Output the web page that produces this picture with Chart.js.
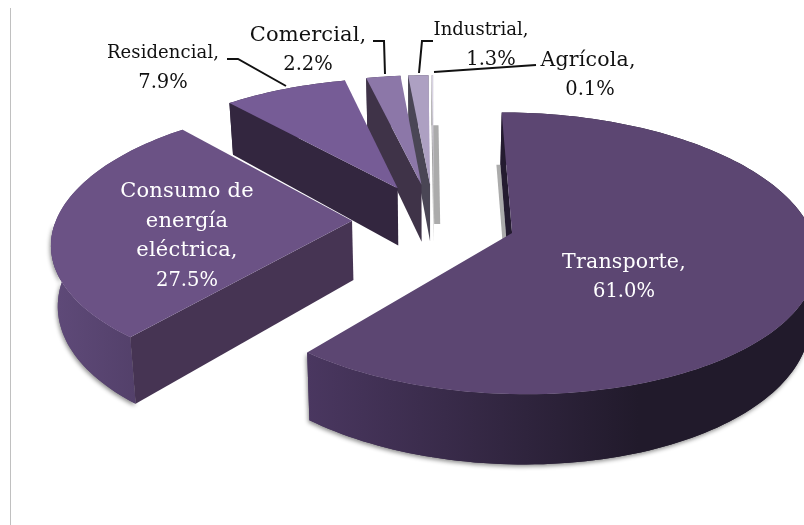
<!DOCTYPE html>
<html>
<head>
<meta charset="utf-8">
<title>Consumo de energía</title>
<script src="https://cdn.jsdelivr.net/npm/chart.js@4"></script>
<style>
  body { margin: 0; background: #fff; }
  #wrap { position: relative; width: 804px; height: 525px; overflow: hidden; }
</style>
</head>
<body>
<div id="wrap"><canvas id="pieChart" width="804" height="525"></canvas></div>
<script>
const categories = ['Transporte', 'Consumo de energía eléctrica', 'Residencial', 'Comercial', 'Industrial', 'Agrícola'];
const shares = [61.0, 27.5, 7.9, 2.2, 1.3, 0.1];

// top face, outer wall (left and right end) and cut wall of each slice
const topColors = ['#5c4672', '#6b5285', '#765c96', '#8c77a8', '#ada0c2', '#d8d2e2'];
const wallLeft = ['#4a3760', '#5f4a79', '#33263f', '#3f3348', '#4a4655', '#a0a0a0'];
const wallRight = ['#211a2b', '#53406a', '#33263f', '#3f3348', '#4a4655', '#a0a0a0'];
const cutColors = ['#241b30', '#463453', '#33263f', '#3f3348', '#4a4655', '#a0a0a0'];

// how each label is broken into lines, and where it sits
const labelLines = [
  ['Transporte,'],
  ['Consumo de', 'energía', 'eléctrica,'],
  ['Residencial,'],
  ['Comercial,'],
  ['Industrial,'],
  ['Agrícola,']
];
const labelSpots = [
  { x: 624, y: 268, gap: 29, color: '#fff', size: 20.5, spacing: 0.2 },
  { x: 187, y: 197, gap: 29.6, color: '#fff', size: 21, spacing: 0.2 },
  { x: 163, y: 58, gap: 30, color: '#111', size: 18, spacing: 0.1 },
  { x: 308, y: 41, gap: 29, color: '#111', size: 21, spacing: 0.1 },
  { x: 481, y: 35, gap: 30, color: '#111', size: 18, spacing: 0, valueX: 491 },
  { x: 588, y: 66, gap: 29, color: '#111', size: 20.5, spacing: 0.2, valueX: 590 }
];
const leaderLines = [
  [[227, 59], [238, 59], [286, 86]],
  [[373, 41], [384, 41], [385, 74]],
  [[433, 41], [422, 41], [419, 73]],
  [[434, 72], [536, 65]]
];

// soft gray edge some slices throw next to their first cut wall
const edgeShadows = [{ dx: -4, width: 4, reach: 0.6 }, null, null, null, null, { dx: 1, width: 6, reach: 0.85 }];

// view of the tilted pie
const view = {
  vanishX: 430, horizonY: 233, perspective: 0.00105, taper: 0.0003,
  hubX: 4, hubY: -13, radius: 300, tilt: 0.46, explode: 83, depth: 60
};

function project(X, Y, Z) {
  const w = 1 / (1 - view.perspective * Y);
  const k = 1 - view.taper * Z;
  return [view.vanishX + X * w * k, view.horizonY + (Y + Z) * w];
}

function tracePoly(ctx, pts) {
  ctx.beginPath();
  pts.forEach((p, i) => i ? ctx.lineTo(p[0], p[1]) : ctx.moveTo(p[0], p[1]));
  ctx.closePath();
}

function polyArea(pts) {
  let sum = 0;
  pts.forEach((p, i) => {
    const q = pts[(i + 1) % pts.length];
    sum += p[0] * q[1] - q[0] * p[1];
  });
  return sum;
}

function drawSlice(ctx, arc, i) {
  const mid = (arc.startAngle + arc.endAngle) / 2;
  const ax = view.hubX + view.explode * Math.cos(mid);
  const ay = view.hubY + view.explode * view.tilt * Math.sin(mid);
  const steps = Math.max(2, Math.ceil((arc.endAngle - arc.startAngle) * 40));
  const rimTop = [], rimBottom = [], frontTop = [], frontBottom = [];
  for (let s = 0; s <= steps; s++) {
    const t = arc.startAngle + (arc.endAngle - arc.startAngle) * s / steps;
    const X = ax + view.radius * Math.cos(t);
    const Y = ay + view.radius * view.tilt * Math.sin(t);
    rimTop.push(project(X, Y, 0));
    rimBottom.push(project(X, Y, view.depth));
    if (Math.sin(t) > 0) {
      frontTop.push(rimTop[s]);
      frontBottom.push(rimBottom[s]);
    }
  }
  const apexTop = project(ax, ay, 0);
  const apexBottom = project(ax, ay, view.depth);

  const edge = edgeShadows[i];
  if (edge) {
    const a = rimBottom[0];
    const bx = a[0] + (apexBottom[0] - a[0]) * edge.reach;
    const by = a[1] + (apexBottom[1] - a[1]) * edge.reach;
    ctx.fillStyle = '#ababab';
    tracePoly(ctx, [[a[0] + edge.dx, a[1]], [a[0] + edge.dx + edge.width, a[1]],
      [bx + edge.dx + edge.width, by], [bx + edge.dx, by]]);
    ctx.fill();
  }

  // outer wall, with a drop shadow on the part facing the viewer
  const xs = rimTop.map(p => p[0]);
  const grad = ctx.createLinearGradient(Math.min(...xs), 0, Math.max(...xs), 0);
  grad.addColorStop(0, wallLeft[i]);
  grad.addColorStop(0.65, wallRight[i]);
  grad.addColorStop(1, wallRight[i]);
  ctx.fillStyle = grad;
  if (frontTop.length > 1) {
    ctx.save();
    ctx.shadowColor = 'rgba(0,0,0,0.45)';
    ctx.shadowBlur = 4;
    ctx.shadowOffsetX = -1;
    ctx.shadowOffsetY = 2;
    tracePoly(ctx, frontTop.concat(frontBottom.slice().reverse()));
    ctx.fill();
    ctx.restore();
  }
  tracePoly(ctx, rimTop.concat(rimBottom.slice().reverse()));
  ctx.fill();

  // cut walls, only the one facing the viewer
  const startWall = [rimTop[0], apexTop, apexBottom, rimBottom[0]];
  const endWall = [rimTop[steps], apexTop, apexBottom, rimBottom[steps]];
  ctx.fillStyle = cutColors[i];
  if (polyArea(startWall) > 0) { tracePoly(ctx, startWall); ctx.fill(); }
  if (polyArea(endWall) < 0) { tracePoly(ctx, endWall); ctx.fill(); }

  // top face
  ctx.fillStyle = topColors[i];
  tracePoly(ctx, [apexTop].concat(rimTop));
  ctx.fill();
}

const tiltedPie = {
  id: 'tiltedPie',
  beforeDatasetsDraw(chart) {
    const ctx = chart.ctx;
    const arcs = chart.getDatasetMeta(0).data;
    // back to front
    [5, 4, 3, 2, 0, 1].forEach(i => drawSlice(ctx, arcs[i], i));
    return false;
  },
  afterDraw(chart) {
    const ctx = chart.ctx;
    ctx.save();

    // frame line on the left
    ctx.fillStyle = '#c0c0c0';
    ctx.fillRect(10, 8, 1, 517);

    ctx.strokeStyle = '#111';
    ctx.lineWidth = 2;
    leaderLines.forEach(line => {
      ctx.beginPath();
      line.forEach((p, n) => n ? ctx.lineTo(p[0], p[1]) : ctx.moveTo(p[0], p[1]));
      ctx.stroke();
    });

    ctx.textAlign = 'center';
    labelLines.forEach((lines, i) => {
      const spot = labelSpots[i];
      ctx.fillStyle = spot.color;
      ctx.font = spot.size + 'px "DejaVu Serif"';
      ctx.letterSpacing = spot.spacing + 'px';
      lines.forEach((txt, n) => ctx.fillText(txt, spot.x, spot.y + n * spot.gap));
      ctx.font = '19.5px "DejaVu Serif"';
      ctx.letterSpacing = '0px';
      ctx.fillText(shares[i].toFixed(1) + '%', spot.valueX || spot.x, spot.y + lines.length * spot.gap);
    });
    ctx.restore();
  }
};

new Chart(document.getElementById('pieChart').getContext('2d'), {
  type: 'pie',
  data: {
    labels: categories,
    datasets: [{ data: shares, backgroundColor: topColors }]
  },
  options: {
    responsive: false,
    animation: false,
    events: [],
    plugins: { legend: { display: false }, tooltip: { enabled: false } }
  },
  plugins: [tiltedPie]
});
</script>
</body>
</html>
